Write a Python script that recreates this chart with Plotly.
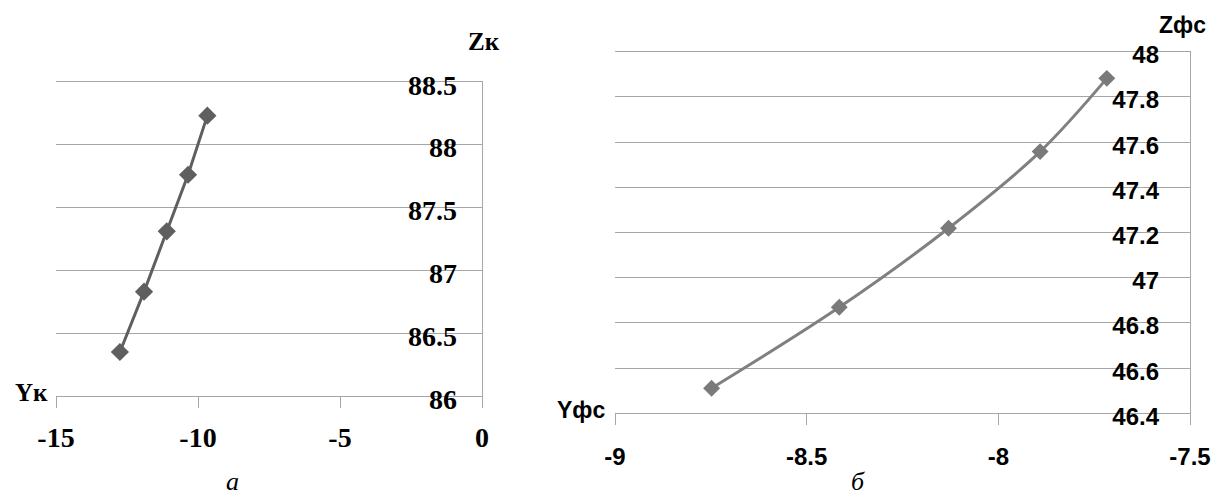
import plotly.graph_objects as go

# Chart a
yk = [-12.75, -11.9, -11.1, -10.35, -9.67]
zk = [86.35, 86.83, 87.31, 87.76, 88.23]
a_xticks = [-15, -10, -5, 0]
a_yticks = [86, 86.5, 87, 87.5, 88, 88.5]

# Chart b
yfs = [-8.748, -8.415, -8.130, -7.891, -7.717]
zfs = [46.511, 46.869, 47.219, 47.558, 47.882]
b_xticks = [-9, -8.5, -8, -7.5]
b_yticks = [46.4, 46.6, 46.8, 47, 47.2, 47.4, 47.6, 47.8, 48]

GRID = "#a6a6a6"
SERIF = "Liberation Serif"
SANS = "Liberation Sans"

A_X = [56/1222, 482/1222]
A_Y = [1-396/498, 1-81.7/498]
B_X = [615/1222, 1190/1222]
B_Y = [1-413.3/498, 1-51.7/498]

fig = go.Figure()
fig.add_trace(go.Scatter(
    x=yk, y=zk, mode="lines+markers", xaxis="x", yaxis="y",
    line=dict(color="#5f5f5f", width=3),
    marker=dict(symbol="diamond", size=14, color="#5f5f5f"),
    showlegend=False, hoverinfo="skip"))
fig.add_trace(go.Scatter(
    x=yfs, y=zfs, mode="lines+markers", xaxis="x2", yaxis="y2",
    line=dict(color="#808080", width=3, shape="spline"),
    marker=dict(symbol="diamond", size=13, color="#7a7a7a"),
    showlegend=False, hoverinfo="skip"))
# invisible carriers so the label-only overlay axes are drawn
fig.add_trace(go.Scatter(x=yk, y=zk, mode="markers", xaxis="x", yaxis="y3",
                         marker=dict(opacity=0), showlegend=False, hoverinfo="skip"))
fig.add_trace(go.Scatter(x=yfs, y=zfs, mode="markers", xaxis="x2", yaxis="y4",
                         marker=dict(opacity=0), showlegend=False, hoverinfo="skip"))

def fmt(v):
    return ("%g" % v)

def serif_font():
    return dict(family=SERIF, size=28, color="black", weight="bold")

def sans_font():
    return dict(family=SANS, size=24, color="black", weight="bold")

fig.update_layout(
    width=1222, height=498,
    margin=dict(l=0, r=0, t=0, b=0, autoexpand=False),
    paper_bgcolor="white", plot_bgcolor="white",
    hovermode=False,
    xaxis=dict(domain=A_X, anchor="y", range=[-15, 0], automargin=False,
               tickvals=a_xticks, ticktext=[fmt(v) for v in a_xticks],
               showgrid=False, zeroline=False, showline=True, mirror=True,
               linecolor=GRID, linewidth=1,
               ticks="outside", ticklen=11, tickcolor=GRID, tickwidth=1,
               ticklabelstandoff=5, ticklabeloverflow="allow",
               tickfont=serif_font()),
    yaxis=dict(domain=A_Y, anchor="x", range=[86, 88.5], automargin=False,
               side="right", tickvals=a_yticks, showticklabels=False,
               showgrid=True, gridcolor=GRID, gridwidth=1, zeroline=False,
               showline=True, linecolor=GRID, linewidth=1, ticks=""),
    yaxis3=dict(overlaying="y", anchor="free", position=A_X[1], range=[86, 88.5],
                automargin=False, side="right", ticklabelposition="inside",
                tickvals=a_yticks, ticktext=[fmt(v) for v in a_yticks],
                showgrid=False, zeroline=False, showline=False, ticks="",
                ticklabelstandoff=22, ticklabelshift=3, ticklabeloverflow="allow",
                tickfont=serif_font()),
    xaxis2=dict(domain=B_X, anchor="y2", range=[-9, -7.5], automargin=False,
                tickvals=b_xticks, ticktext=[fmt(v) for v in b_xticks],
                showgrid=False, zeroline=False, showline=True, mirror=True,
                linecolor=GRID, linewidth=1,
                ticks="outside", ticklen=11, tickcolor=GRID, tickwidth=1,
                ticklabelstandoff=11, ticklabeloverflow="allow",
                tickfont=sans_font()),
    yaxis2=dict(domain=B_Y, anchor="x2", range=[46.4, 48], automargin=False,
                side="right", tickvals=b_yticks, showticklabels=False,
                showgrid=True, gridcolor=GRID, gridwidth=1, zeroline=False,
                showline=True, linecolor=GRID, linewidth=1, ticks=""),
    yaxis4=dict(overlaying="y2", anchor="free", position=B_X[1], range=[46.4, 48],
                automargin=False, side="right", ticklabelposition="inside",
                tickvals=b_yticks, ticktext=[fmt(v) for v in b_yticks],
                showgrid=False, zeroline=False, showline=False, ticks="",
                ticklabelstandoff=28, ticklabelshift=3, ticklabeloverflow="allow",
                tickfont=sans_font()),
)

ann = [
    dict(text="<b>Zк</b>", x=484/1222, y=1-41/498, yanchor="middle", font=dict(family=SERIF, size=25)),
    dict(text="<b>Yк</b>", x=31/1222, y=1-392/498, yanchor="middle", font=dict(family=SERIF, size=25)),
    dict(text="<i>а</i>", x=233/1222, y=0, yanchor="bottom", font=dict(family=SERIF, size=26)),
    dict(text="<b>Zфс</b>", x=1182/1222, y=1-25/498, yanchor="middle", font=dict(family=SANS, size=23)),
    dict(text="<b>Yфс</b>", x=581/1222, y=1-410/498, yanchor="middle", font=dict(family=SANS, size=23)),
    dict(text="<i>б</i>", x=858/1222, y=0, yanchor="bottom", font=dict(family=SERIF, size=26)),
]
for a in ann:
    a["font"]["color"] = "black"
    fig.add_annotation(xref="paper", yref="paper", showarrow=False,
                       xanchor="center", **a)

fig.write_html("out.html", config={"displayModeBar": False, "staticPlot": True},
               post_script="document.body.style.margin='0';document.body.style.overflow='hidden';")
